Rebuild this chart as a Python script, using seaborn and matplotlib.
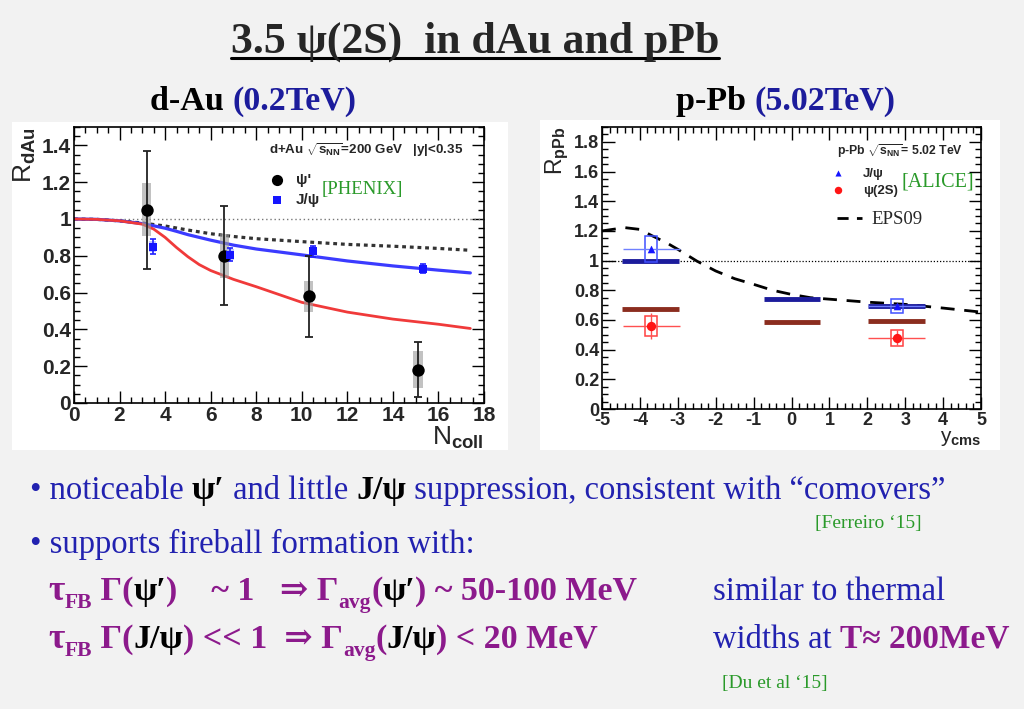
"""Slide: psi(2S) nuclear modification in d-Au and p-Pb."""

import numpy as np
import pandas as pd
import seaborn as sns
import matplotlib.pyplot as plt
from matplotlib.patches import Rectangle
from matplotlib.lines import Line2D
from matplotlib.transforms import IdentityTransform
from matplotlib.ticker import MultipleLocator, FuncFormatter

# ---- d-Au (PHENIX) ----
ncoll_psi2s = [3.2, 6.6, 10.3, 15.1]
r_psi2s = [1.05, 0.80, 0.58, 0.18]
r_psi2s_stat = [0.32, 0.27, 0.22, 0.15]
r_psi2s_sys = [0.145, 0.12, 0.085, 0.10]

ncoll_jpsi = [3.45, 6.85, 10.5, 15.3]
r_jpsi = [0.85, 0.805, 0.825, 0.73]
r_jpsi_stat = [0.04, 0.035, 0.03, 0.025]
r_jpsi_sys = [0.03, 0.03, 0.025, 0.02]

ncoll_curve = [0, 1, 2, 3, 3.5, 4, 4.5, 5, 5.5, 6, 7, 8, 10, 12, 14, 16, 17.4]
curve_nuclear = [1.0, 0.998, 0.99, 0.978, 0.97, 0.962, 0.951, 0.94, 0.93, 0.92, 0.905,
                 0.893, 0.877, 0.862, 0.852, 0.84, 0.83]
curve_jpsi = [1.0, 0.998, 0.99, 0.975, 0.963, 0.95, 0.933, 0.915, 0.9, 0.885, 0.858,
              0.837, 0.805, 0.772, 0.745, 0.722, 0.707]
curve_psi2s = [1.0, 0.998, 0.99, 0.972, 0.945, 0.9, 0.845, 0.795, 0.752, 0.72, 0.672,
               0.632, 0.547, 0.494, 0.456, 0.428, 0.405]

# ---- p-Pb (ALICE) ----
bin_lo = [-4.46, -0.73, 2.03]
bin_hi = [-2.96, 0.76, 3.53]
comover_jpsi = [1.0, 0.738, 0.695]
comover_psi2s = [0.675, 0.588, 0.593]

y_points = [-3.7, 2.78]
rppb_jpsi = [1.077, 0.695]
rppb_jpsi_stat = [0.02, 0.02]
rppb_jpsi_sys = [0.088, 0.045]
rppb_psi2s = [0.56, 0.48]
rppb_psi2s_stat = [0.09, 0.05]
rppb_psi2s_sys = [0.065, 0.055]
y_halfwidth = 0.75

y_eps = [-5, -4.4, -4, -3.7, -3.3, -3, -2.5, -2, -1.5, -1, -0.5, 0, 0.5, 1, 2, 3, 4, 5]
eps09 = [1.2, 1.222, 1.21, 1.17, 1.12, 1.076, 0.997, 0.93, 0.878, 0.84, 0.80,
         0.772, 0.75, 0.74, 0.72, 0.705, 0.68, 0.653]

W, H = 1024, 709
BG = '#f2f2f2'
BLUE_TXT = '#2222b0'
PURPLE = '#8c1a8c'
GREEN = '#2a9a2a'

sns.set_theme(style='ticks')
plt.rcParams['font.family'] = ['Liberation Sans', 'DejaVu Sans']
plt.rcParams['mathtext.fontset'] = 'custom'
plt.rcParams['mathtext.rm'] = 'Liberation Sans:bold'
plt.rcParams['mathtext.it'] = 'Liberation Sans:bold'
plt.rcParams['mathtext.bf'] = 'Liberation Sans:bold'

fig = plt.figure(figsize=(W / 100, H / 100), dpi=100, facecolor=BG)
SERIF = ['Liberation Serif', 'DejaVu Serif']


def px_axes(x0, y0, x1, y1):
    return fig.add_axes([x0 / W, 1 - y1 / H, (x1 - x0) / W, (y1 - y0) / H])


def panel(x0, y0, x1, y1):
    fig.add_artist(Rectangle((x0 / W, 1 - y1 / H), (x1 - x0) / W, (y1 - y0) / H,
                             transform=fig.transFigure, facecolor='white',
                             edgecolor='none', zorder=0))


def root_style(ax, xmaj, xmin, ymaj, ymin, size):
    ax.set_facecolor('white')
    ax.xaxis.set_major_locator(MultipleLocator(xmaj))
    ax.xaxis.set_minor_locator(MultipleLocator(xmin))
    ax.yaxis.set_major_locator(MultipleLocator(ymaj))
    ax.yaxis.set_minor_locator(MultipleLocator(ymin))
    fmt = FuncFormatter(lambda v, p: f'{v:g}')
    ax.xaxis.set_major_formatter(fmt)
    ax.yaxis.set_major_formatter(fmt)
    ax.tick_params(which='both', direction='in', top=True, right=True,
                   labelsize=size, width=1, color='black', pad=2)
    ax.tick_params(which='major', length=9)
    ax.tick_params(which='minor', length=4.5)
    for lab in ax.get_xticklabels() + ax.get_yticklabels():
        lab.set_fontweight('bold')
    for sp in ax.spines.values():
        sp.set_linewidth(1.2)
        sp.set_color('black')


# ---------------- left panel ----------------
panel(12, 122, 508, 450)
ax1 = px_axes(74, 127, 484, 403)
ax1.set_xlim(0, 18)
ax1.set_ylim(0, 1.5)
ax1.axhline(1, color='#777777', ls=(0, (1, 2)), lw=1)
sns.lineplot(x=ncoll_curve, y=curve_nuclear, ax=ax1, color='#333333',
             ls=(0, (1.2, 1.2)), lw=2.3, estimator=None, sort=False)
sns.lineplot(x=ncoll_curve, y=curve_jpsi, ax=ax1, color='#3b3bff', lw=2.3,
             estimator=None, sort=False)
sns.lineplot(x=ncoll_curve, y=curve_psi2s, ax=ax1, color='#f03a3a', lw=2.0,
             estimator=None, sort=False)

for x, y, s in zip(ncoll_psi2s, r_psi2s, r_psi2s_sys):
    ax1.add_patch(Rectangle((x - 0.2, y - s), 0.4, 2 * s, facecolor='#9a9a9a',
                            alpha=0.6, lw=0, zorder=3))
for x, y, s in zip(ncoll_jpsi, r_jpsi, r_jpsi_sys):
    ax1.add_patch(Rectangle((x - 0.16, y - s), 0.32, 2 * s, facecolor='#b4bcff',
                            alpha=0.8, lw=0, zorder=3))
ax1.errorbar(ncoll_psi2s, r_psi2s, yerr=r_psi2s_stat, fmt='none', ecolor='#222222',
             elinewidth=1.3, capsize=3, capthick=1.3, zorder=4)
ax1.errorbar(ncoll_jpsi, r_jpsi, yerr=r_jpsi_stat, fmt='none', ecolor='#2020ff',
             elinewidth=1.2, capsize=2, capthick=1.2, zorder=4)
sns.scatterplot(x=ncoll_psi2s, y=r_psi2s, ax=ax1, color='black', s=80,
                marker='o', linewidth=0, label="\u03c8'", zorder=5)
sns.scatterplot(x=ncoll_jpsi, y=r_jpsi, ax=ax1, color='#1515ff', s=40,
                marker='s', linewidth=0, label='J/\u03c8', zorder=5)
root_style(ax1, 2, 0.5, 0.2, 0.05, 15)
ax1.legend(loc='upper left', bbox_to_anchor=(0.44, 0.86), frameon=False,
           prop={'weight': 'bold', 'size': 11}, handletextpad=0.2,
           labelspacing=0.35, borderpad=0, markerscale=0.9)
ax1.text(0.475, 0.915, 'd+Au $\\sqrt{s_{NN}}$=200 GeV   |y|<0.35',
         transform=ax1.transAxes, fontsize=9.6, fontweight='bold', va='center')
ax1.text(0.605, 0.775, '[PHENIX]', transform=ax1.transAxes, fontsize=13.5,
         color=GREEN, family=SERIF, va='center')
ax1.set_ylabel('R$_{dAu}$', loc='top', fontsize=19, labelpad=3)
ax1.set_xlabel('N$_{coll}$', loc='right', fontsize=19, labelpad=0)

# ---------------- right panel ----------------
panel(540, 120, 1000, 450)
ax2 = px_axes(602, 127, 981, 409)
ax2.set_xlim(-5, 5)
ax2.set_ylim(0, 1.9)
ax2.axhline(1, color='black', ls=(0, (1, 1.5)), lw=0.9)
sns.lineplot(x=y_eps, y=eps09, ax=ax2, color='black', ls=(0, (5, 3.5)), lw=2,
             estimator=None, sort=False)
ax2.hlines(comover_jpsi, bin_lo, bin_hi, color='#1c1c9c', lw=3.5, zorder=3)
ax2.hlines(comover_psi2s, bin_lo, bin_hi, color='#8b2d1f', lw=3.5, zorder=3)
for x, y, s in zip(y_points, rppb_jpsi, rppb_jpsi_sys):
    ax2.add_patch(Rectangle((x - 0.16, y - s), 0.32, 2 * s, fill=False,
                            edgecolor='#4050ff', lw=1.1, zorder=4))
for x, y, s in zip(y_points, rppb_psi2s, rppb_psi2s_sys):
    ax2.add_patch(Rectangle((x - 0.16, y - s), 0.32, 2 * s, fill=False,
                            edgecolor='#ff4040', lw=1.1, zorder=4))
ax2.errorbar(y_points, rppb_jpsi, xerr=y_halfwidth, yerr=rppb_jpsi_stat, fmt='none',
             ecolor='#7080ff', elinewidth=1, zorder=4)
ax2.errorbar(y_points, rppb_psi2s, xerr=y_halfwidth, yerr=rppb_psi2s_stat, fmt='none',
             ecolor='#ff5050', elinewidth=1, zorder=4)
sns.scatterplot(x=y_points, y=rppb_jpsi, ax=ax2, color='#1515ff', s=30,
                marker='^', linewidth=0, label='J/\u03c8', zorder=5)
sns.scatterplot(x=y_points, y=rppb_psi2s, ax=ax2, color='#ff1515', s=45,
                marker='o', linewidth=0, label='\u03c8(2S)', zorder=5)
root_style(ax2, 1, 0.2, 0.2, 0.05, 13)
handles, labels = ax2.get_legend_handles_labels()
leg_pts = [(h, l) for h, l in zip(handles, labels) if l in ('J/\u03c8', '\u03c8(2S)')]
leg1 = ax2.legend([h for h, _ in leg_pts], [l for _, l in leg_pts], loc='upper left',
                  bbox_to_anchor=(0.57, 0.88), frameon=False,
                  prop={'weight': 'bold', 'size': 9.5}, handletextpad=0.9,
                  labelspacing=0.35, borderpad=0, markerscale=0.8)
ax2.add_artist(leg1)
eps_handle = Line2D([], [], color='black', ls=(0, (4, 3)), lw=2)
ax2.legend([eps_handle], ['EPS09'], loc='upper left', bbox_to_anchor=(0.595, 0.735),
           frameon=False, prop={'family': SERIF, 'size': 13.5}, handlelength=1.35,
           handletextpad=0.5, borderpad=0)
ax2.text(0.62, 0.915, 'p-Pb $\\sqrt{s_{NN}}$= 5.02 TeV', transform=ax2.transAxes,
         fontsize=8.8, fontweight='bold', va='center')
ax2.text(0.79, 0.805, '[ALICE]', transform=ax2.transAxes, fontsize=14.5,
         color=GREEN, family=SERIF, va='center')
ax2.set_ylabel('R$_{pPb}$', loc='top', fontsize=16.5, labelpad=2)
ax2.set_xlabel('y$_{cms}$', loc='right', fontsize=15, labelpad=0)

# ---------------- slide text ----------------
renderer = fig.canvas.get_renderer()


def runs(x, base, parts):
    """Draw text pieces one after another; base is the baseline from the top,
    dy pushes a piece down (subscripts)."""
    for s, color, size, weight, dy in parts:
        t = fig.text(x, H - base - dy, s, transform=IdentityTransform(), color=color,
                     fontsize=size, fontweight=weight, family=SERIF, va='baseline')
        x = t.get_window_extent(renderer).x1
    return x


title = fig.text(475, H - 53, '3.5 \u03c8(2S)  in dAu and pPb', transform=IdentityTransform(),
                 fontsize=31.5, fontweight='bold', family=SERIF, ha='center', va='baseline')
bb = title.get_window_extent(renderer)
fig.add_artist(Line2D([bb.x0, bb.x1], [H - 58, H - 58], transform=IdentityTransform(),
                      color='black', lw=2.2))

runs(150, 110, [('d-Au ', 'black', 24.5, 'bold', 0), ('(0.2TeV)', '#1c1c9c', 24.5, 'bold', 0)])
runs(676, 110, [('p-Pb ', 'black', 24.5, 'bold', 0), ('(5.02TeV)', '#1c1c9c', 24.5, 'bold', 0)])

runs(30, 499, [('\u2022 noticeable ', BLUE_TXT, 23.5, 'normal', 0),
               ('\u03c8\u2032', 'black', 24.5, 'bold', 0),
               (' and little ', BLUE_TXT, 23.5, 'normal', 0),
               ('J/\u03c8', 'black', 24.5, 'bold', 0),
               (' suppression, consistent with \u201ccomovers\u201d', BLUE_TXT, 23.5, 'normal', 0)])
runs(815, 528, [('[Ferreiro \u201815]', GREEN, 14, 'normal', 0)])
runs(30, 553, [('\u2022 supports fireball formation with:', BLUE_TXT, 23.5, 'normal', 0)])

runs(48, 600, [('\u03c4', PURPLE, 25.5, 'bold', 0), ('FB', PURPLE, 15.5, 'bold', 8),
               (' \u0393(', PURPLE, 24.5, 'bold', 0), ('\u03c8\u2032', 'black', 24.5, 'bold', 0),
               (')    ~ 1   \u21d2 \u0393', PURPLE, 24.5, 'bold', 0), ('avg', PURPLE, 15.5, 'bold', 8),
               ('(', PURPLE, 24.5, 'bold', 0), ('\u03c8\u2032', 'black', 24.5, 'bold', 0),
               (') ~ 50-100 MeV', PURPLE, 24.5, 'bold', 0)])
runs(48, 648, [('\u03c4', PURPLE, 25.5, 'bold', 0), ('FB', PURPLE, 15.5, 'bold', 8),
               (' \u0393(', PURPLE, 24.5, 'bold', 0), ('J/\u03c8', 'black', 24.5, 'bold', 0),
               (') << 1  \u21d2 \u0393', PURPLE, 24.5, 'bold', 0), ('avg', PURPLE, 15.5, 'bold', 8),
               ('(', PURPLE, 24.5, 'bold', 0), ('J/\u03c8', 'black', 24.5, 'bold', 0),
               (') < 20 MeV', PURPLE, 24.5, 'bold', 0)])
runs(713, 600, [('similar to thermal', BLUE_TXT, 23.5, 'normal', 0)])
runs(713, 648, [('widths at ', BLUE_TXT, 23.5, 'normal', 0),
                ('T\u2248 200MeV', PURPLE, 24, 'bold', 0)])
runs(722, 688, [('[Du et al \u201815]', GREEN, 14, 'normal', 0)])

fig.savefig('out.png', dpi=100, facecolor=BG)
